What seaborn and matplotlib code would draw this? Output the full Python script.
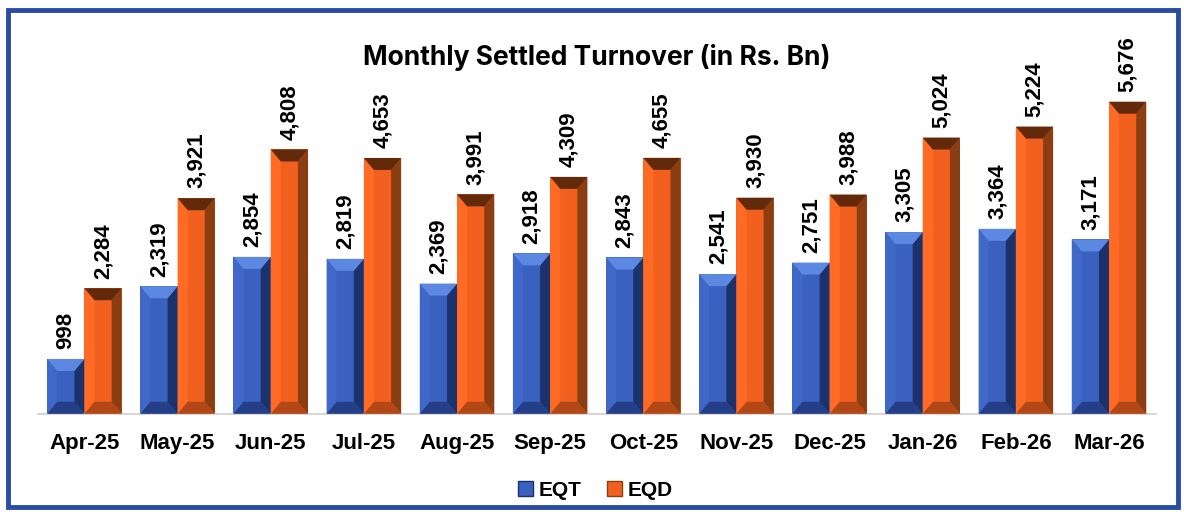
import matplotlib.pyplot as plt
import seaborn as sns
import pandas as pd
from matplotlib.patches import Polygon, Rectangle, Patch

# Data
months = ["Apr-25", "May-25", "Jun-25", "Jul-25", "Aug-25", "Sep-25",
          "Oct-25", "Nov-25", "Dec-25", "Jan-26", "Feb-26", "Mar-26"]
eqt = [998, 2319, 2854, 2819, 2369, 2918, 2843, 2541, 2751, 3305, 3364, 3171]
eqd = [2284, 3921, 4808, 4653, 3991, 4309, 4655, 3930, 3988, 5024, 5224, 5676]
series = ["EQT", "EQD"]

df = pd.DataFrame({
    "Month": months * 2,
    "Value": eqt + eqd,
    "Series": ["EQT"] * len(months) + ["EQD"] * len(months),
})

# colours: main face, left, right, top, bottom bevels
shades = {
    "EQT": dict(face="#3a61c0", left="#3f68c9", right="#1c326c", top="#5d88e2", bottom="#243f88"),
    "EQD": dict(face="#f2601f", left="#ff6b24", right="#8a3e12", top="#62290a", bottom="#b24815"),
}

sns.set_theme(style="white")
plt.rcParams['font.family'] = ['Liberation Sans', 'DejaVu Sans']
plt.rcParams['text.color'] = 'black'
plt.rcParams['xtick.color'] = 'black'

fig = plt.figure(figsize=(11.84, 5.16), dpi=100)
ax = fig.add_axes([0.032, 0.198, 0.944, 0.746])

sns.barplot(data=df, x="Month", y="Value", hue="Series", hue_order=series,
            palette={s: shades[s]["face"] for s in series}, saturation=1,
            width=0.8, ax=ax, legend=False, linewidth=0)

ax.set_ylim(0, 7000)
ax.set_xlim(-0.5, len(months) - 0.5)

# bevel size in data units
fig.canvas.draw()
bbox = ax.get_window_extent()
px_y = 7000 / bbox.height

for container, s in zip(ax.containers, series):
    c = shades[s]
    for bar in container:
        x0 = bar.get_x()
        w = bar.get_width()
        h = bar.get_height()
        x1 = x0 + w
        bx = w * 0.27
        by = 12 * px_y
        polys = {
            "top": [(x0, h), (x1, h), (x1 - bx, h - by), (x0 + bx, h - by)],
            "bottom": [(x0, 0), (x1, 0), (x1 - bx, by), (x0 + bx, by)],
            "left": [(x0, 0), (x0 + bx, by), (x0 + bx, h - by), (x0, h)],
            "right": [(x1, 0), (x1 - bx, by), (x1 - bx, h - by), (x1, h)],
        }
        for k in ["left", "right", "bottom", "top"]:
            ax.add_patch(Polygon(polys[k], closed=True, facecolor=c[k],
                                 edgecolor="none", zorder=3))
        ax.annotate(f"{int(h):,}", xy=(x0 + w / 2, h), xytext=(0, 7),
                    textcoords="offset points", rotation=90, ha="center",
                    va="bottom", fontsize=16, fontweight="bold", color="black")

# axes styling
for sp in ["top", "right", "left"]:
    ax.spines[sp].set_visible(False)
ax.spines["bottom"].set_color("#d0d0d0")
ax.spines["bottom"].set_linewidth(1.2)
ax.set_yticks([])
ax.set_xlabel("")
ax.set_ylabel("")
ax.set_xticks(range(len(months)))
ax.set_xticklabels(months, fontsize=16, fontweight="bold")
ax.set_xticks([i - 0.5 for i in range(len(months) + 1)], minor=True)
ax.tick_params(axis="x", which="major", length=0, pad=14)
ax.tick_params(axis="x", which="minor", length=8, color="#d0d0d0", width=1.2)
ax.grid(False)

ax.set_title("Monthly Settled Turnover (in Rs. Bn)", fontsize=19, color="black",
             fontweight="bold", family=["Inter", "DejaVu Sans"], pad=-26, y=1.0)

handles = [Patch(facecolor=shades[s]["face"], edgecolor=shades[s]["right"], label=s)
           for s in series]
fig.legend(handles=handles, loc="center", bbox_to_anchor=(0.503, 0.05), ncol=2,
           frameon=False, handlelength=0.7, handleheight=0.7,
           columnspacing=1.2, handletextpad=0.3, prop={"weight": "bold", "size": 15})

# figure frame
fig.patches.append(Rectangle((8 / 1184, 9 / 516), 1170 / 1184, 497 / 516,
                             transform=fig.transFigure, fill=False,
                             edgecolor="#2a4ca3", linewidth=3.5))

plt.savefig("out.png", dpi=100)
